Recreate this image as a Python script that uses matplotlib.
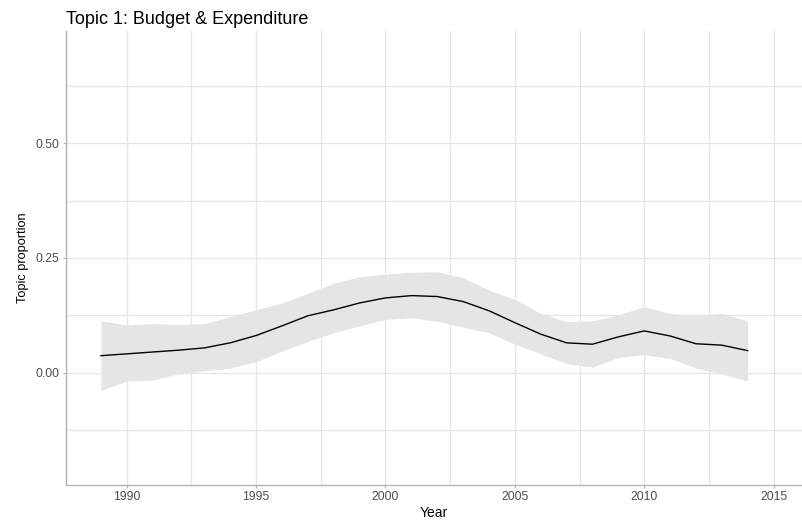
import matplotlib
matplotlib.use("Agg")
import matplotlib.pyplot as plt
from matplotlib.ticker import MultipleLocator, FixedLocator

plt.rcParams['font.family'] = ['Liberation Sans', 'DejaVu Sans']

# Estimated topic proportion by year with confidence band
years = list(range(1989, 2015))
estimate = [0.037, 0.041, 0.045, 0.049, 0.054, 0.065, 0.081, 0.102, 0.124, 0.137,
            0.152, 0.163, 0.168, 0.166, 0.155, 0.135, 0.109, 0.084, 0.065, 0.062,
            0.078, 0.091, 0.080, 0.063, 0.060, 0.048]
upper = [0.113, 0.104, 0.107, 0.105, 0.107, 0.122, 0.137, 0.152, 0.173, 0.195,
         0.209, 0.215, 0.219, 0.220, 0.207, 0.180, 0.160, 0.129, 0.111, 0.113,
         0.126, 0.144, 0.129, 0.125, 0.129, 0.113]
lower = [-0.039, -0.018, -0.016, -0.003, 0.004, 0.010, 0.024, 0.047, 0.068, 0.087,
         0.102, 0.116, 0.120, 0.112, 0.099, 0.087, 0.062, 0.041, 0.020, 0.012,
         0.033, 0.039, 0.031, 0.010, -0.003, -0.018]

x_ticks = [1990, 1995, 2000, 2005, 2010, 2015]
y_ticks = [0.00, 0.25, 0.50]
y_tick_labels = ["0.00", "0.25", "0.50"]

W, H = 803, 522
fig = plt.figure(figsize=(W / 100, H / 100), dpi=100)
ax = fig.add_axes([66 / W, 1 - 485 / H, (802 - 66) / W, (485 - 31) / H])

ax.fill_between(years, lower, upper, color="#e5e5e5", linewidth=0, zorder=2)
ax.plot(years, estimate, color="black", linewidth=1.0, zorder=3)

ax.set_xlim(1987.65, 2016.1)
ax.set_ylim(-0.245, 0.745)

ax.xaxis.set_major_locator(FixedLocator(x_ticks))
ax.xaxis.set_minor_locator(MultipleLocator(2.5))
ax.yaxis.set_major_locator(FixedLocator(y_ticks))
ax.yaxis.set_minor_locator(MultipleLocator(0.125))
ax.set_yticklabels(y_tick_labels)

ax.grid(which="major", color="#e6e6e6", linewidth=1.0, zorder=0)
ax.grid(which="minor", color="#e6e6e6", linewidth=0.9, zorder=0)
ax.set_axisbelow(True)

for side in ["top", "right"]:
    ax.spines[side].set_visible(False)
for side in ["left", "bottom"]:
    ax.spines[side].set_color("#b3b3b3")
    ax.spines[side].set_linewidth(1.0)

ax.tick_params(which="major", length=2.5, width=0.8, color="#b3b3b3",
               labelsize=8.7, labelcolor="#4d4d4d", pad=2)
ax.tick_params(which="minor", length=0)

ax.set_xlabel("Year", fontsize=10, color="black", labelpad=2)
ax.set_ylabel("Topic proportion", fontsize=9.2, color="black", labelpad=5)
ax.set_title("Topic 1: Budget & Expenditure", fontsize=13, loc="left",
             x=0, pad=5)

fig.savefig("out.png", dpi=100)
